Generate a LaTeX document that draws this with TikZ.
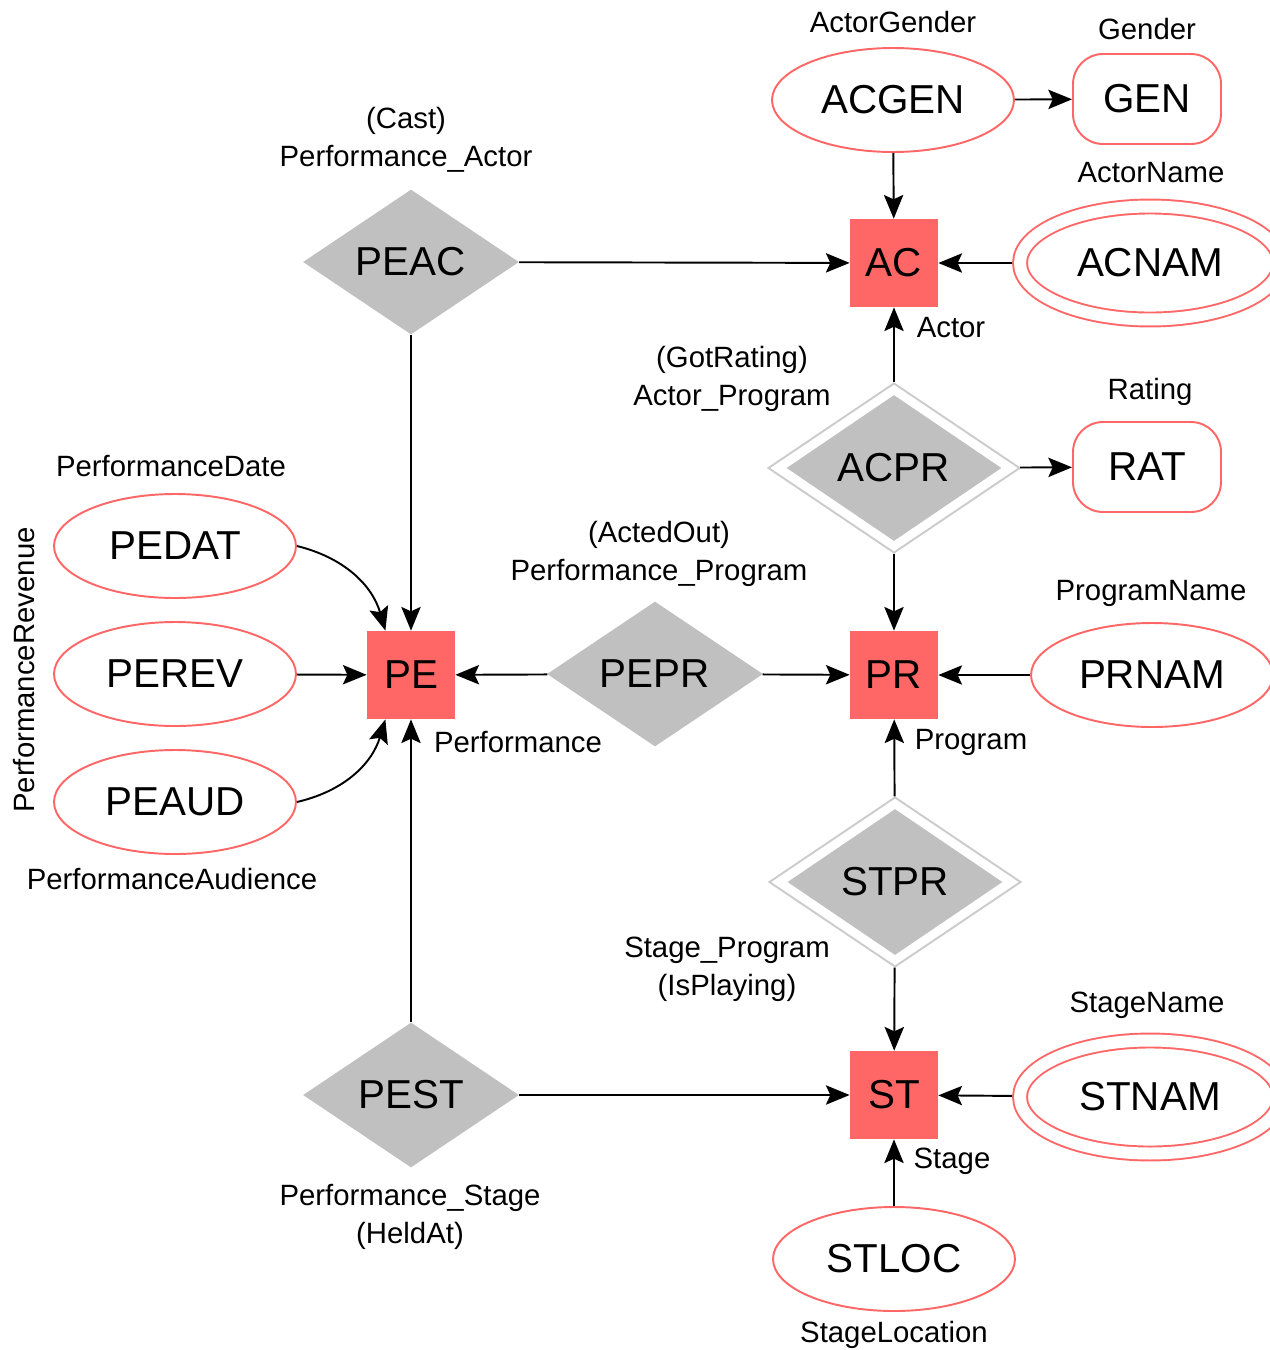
\documentclass[tikz,border=0pt]{standalone}
\usepackage{fontspec}
\setmainfont{Liberation Sans}
\usetikzlibrary{shapes.geometric,arrows.meta}

\definecolor{erred}{HTML}{FF6666}
\definecolor{relgray}{HTML}{C0C0C0}
\definecolor{relline}{HTML}{CCCCCC}

\tikzset{
  big/.style={font=\fontsize{23}{27}\selectfont},
  lbl/.style={font=\fontsize{16.7}{21.5}\selectfont, inner sep=0pt},
  entity/.style={big, rectangle, fill=erred, minimum size=1.76cm, inner sep=0pt},
  attr/.style={big, ellipse, draw=erred, line width=1.1pt, minimum width=4.84cm,
    minimum height=2.08cm, inner sep=0pt},
  keyattr/.style={big, ellipse, draw=erred, line width=1.1pt, double distance=0.24cm,
    minimum width=5.2cm, minimum height=2.26cm, inner sep=0pt, outer sep=0.16cm},
  multiattr/.style={big, rectangle, rounded corners=0.6cm, draw=erred, line width=1.1pt,
    minimum width=2.96cm, minimum height=1.8cm},
  rel/.style={big, diamond, aspect=1.5, fill=relgray, minimum width=4.32cm,
    minimum height=2.9cm, inner sep=0pt},
  wrel/.style={diamond, aspect=1.5, draw=relline, line width=1.1pt, fill=white,
    minimum width=5.04cm, minimum height=3.4cm, inner sep=0pt},
  link/.style={-{Stealth[length=13.5pt,width=11pt,inset=2.5pt]}, line width=1.1pt},
}

\begin{document}
\begin{tikzpicture}[x=0.02cm, y=-0.02cm]
  \useasboundingbox (0,0) rectangle (1270,1350);

  % entities
  \node[entity] (ac) at (894,263) {AC};
  \node[entity] (pr) at (894,675) {PR};
  \node[entity] (pe) at (411,675) {PE};
  \node[entity] (st) at (894,1095) {ST};

  % attributes
  \node[attr] (acgen) at (893,100) {ACGEN};
  \node[multiattr] (gen) at (1147,99) {GEN};
  \node[keyattr] (acnam) at (1150,263) {ACNAM};
  \node[multiattr] (rat) at (1147,467) {RAT};
  \node[attr] (prnam) at (1152,675) {PRNAM};
  \node[attr] (pedat) at (175,546) {PEDAT};
  \node[attr] (perev) at (175,674) {PEREV};
  \node[attr] (peaud) at (175,802) {PEAUD};
  \node[keyattr] (stnam) at (1150,1097) {STNAM};
  \node[attr] (stloc) at (894,1259) {STLOC};

  % relationships
  \node[rel] (peac) at (411,262) {PEAC};
  \node[rel] (pepr) at (655,674) {PEPR};
  \node[rel] (pest) at (411,1095) {PEST};
  \node[wrel] (acpr) at (894,468) {};
  \node[rel, minimum width=4.3cm, minimum height=2.92cm] (acpr-in) at (acpr) {ACPR};
  \node[wrel] (stpr) at (895,882) {};
  \node[rel, minimum width=4.3cm, minimum height=2.92cm] (stpr-in) at (stpr) {STPR};

  % connectors
  \draw[link] (acgen) -- (ac);
  \draw[link] (acgen) -- (gen);
  \draw[link] (peac) -- (ac);
  \draw[link] (acnam) -- (ac);
  \draw[link] (acpr) -- (ac);
  \draw[link] (acpr) -- (rat);
  \draw[link] (acpr) -- (pr);
  \draw[link] (peac) -- (pe);
  \draw[link] (pedat.east) to[bend left=30] (pe.120);
  \draw[link] (perev) -- (pe);
  \draw[link] (peaud.east) to[bend right=30] (pe.240);
  \draw[link] (pepr) -- (pe);
  \draw[link] (pepr) -- (pr);
  \draw[link] (prnam) -- (pr);
  \draw[link] (stpr) -- (pr);
  \draw[link] (stpr) -- (st);
  \draw[link] (pest) -- (pe);
  \draw[link] (pest) -- (st);
  \draw[link] (stnam) -- (st);
  \draw[link] (stloc) -- (st);

  % labels
  \node[lbl] (acgen-lbl) at (893,22) {ActorGender};
  \node[lbl] (gen-lbl) at (1147,29) {Gender};
  \node[lbl] (acnam-lbl) at (1151,173) {ActorName};
  \node[lbl, align=center] (peac-lbl) at (406,140) {(Cast)\\Performance\_Actor};
  \node[lbl] (ac-lbl) at (951,328) {Actor};
  \node[lbl, align=center] (acpr-lbl) at (732,379) {(GotRating)\\Actor\_Program};
  \node[lbl] (rat-lbl) at (1150,392) {Rating};
  \node[lbl] (pedat-lbl) at (171,466) {PerformanceDate};
  \node[lbl, align=center] (pepr-lbl) at (659,554) {(ActedOut)\\Performance\_Program};
  \node[lbl] (prnam-lbl) at (1151,593) {ProgramName};
  \node[lbl] (pe-lbl) at (518,742) {Performance};
  \node[lbl] (pr-lbl) at (971,742) {Program};
  \node[lbl, rotate=90] (perev-lbl) at (24,670) {PerformanceRevenue};
  \node[lbl] (peaud-lbl) at (172,879) {PerformanceAudience};
  \node[lbl, align=center] (stpr-lbl) at (727,969) {Stage\_Program\\(IsPlaying)};
  \node[lbl] (stnam-lbl) at (1147,1005) {StageName};
  \node[lbl] (st-lbl) at (952,1161) {Stage};
  \node[lbl, align=center] (pest-lbl) at (410,1217) {Performance\_Stage\\(HeldAt)};
  \node[lbl] (stloc-lbl) at (894,1335) {StageLocation};
\end{tikzpicture}
\end{document}
